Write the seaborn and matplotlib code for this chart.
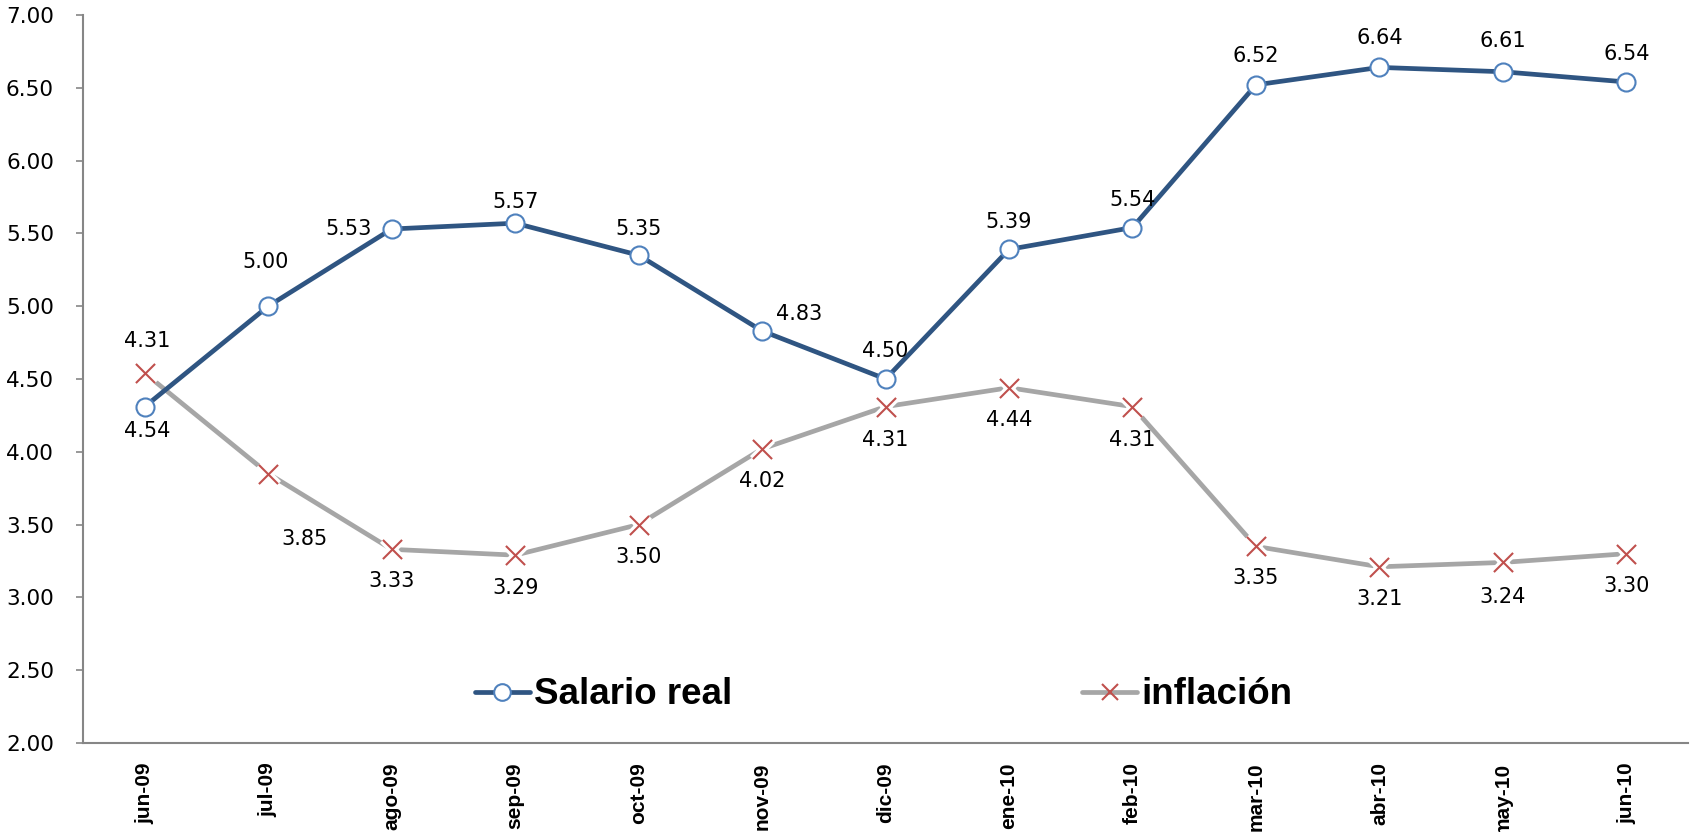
import numpy as np
import pandas as pd
import matplotlib
matplotlib.use("Agg")
import matplotlib.pyplot as plt
from matplotlib.lines import Line2D
import seaborn as sns

# data
meses = ["jun-09", "jul-09", "ago-09", "sep-09", "oct-09", "nov-09", "dic-09",
         "ene-10", "feb-10", "mar-10", "abr-10", "may-10", "jun-10"]
salario_real = [4.31, 5.00, 5.53, 5.57, 5.35, 4.83, 4.50, 5.39, 5.54, 6.52, 6.64, 6.61, 6.54]
inflacion = [4.54, 3.85, 3.33, 3.29, 3.50, 4.02, 4.31, 4.44, 4.31, 3.35, 3.21, 3.24, 3.30]
y_ticks = [2.0, 2.5, 3.0, 3.5, 4.0, 4.5, 5.0, 5.5, 6.0, 6.5, 7.0]

# label offsets in points (dx, dy)
off_sal = [(2, 47), (-2, 32), (-31, 0), (0, 15), (0, 19), (27, 12), (0, 20),
           (0, 20), (0, 20), (0, 21), (0, 21), (0, 22), (0, 20)]
off_inf = [(2, -42), (26, -47), (0, -23), (0, -24), (0, -23), (0, -23), (0, -24),
           (0, -23), (0, -24), (0, -23), (0, -23), (0, -25), (0, -23)]

C_SAL = "#2F5582"
C_SAL_EDGE = "#4F81BD"
C_INF = "#A6A6A6"
C_X = "#C0504D"

sns.set_style("white")
plt.rcParams["font.family"] = ["DejaVu Sans"]
plt.rcParams["text.color"] = "black"
plt.rcParams["xtick.color"] = "black"
plt.rcParams["ytick.color"] = "black"

df = pd.DataFrame({"mes": meses, "salario": salario_real, "inflacion": inflacion})

fig = plt.figure(figsize=(17.02, 8.32), dpi=100)
ax = fig.add_axes([0.0488, 0.107, 0.943, 0.875])

# inflation: grey line, white halo under the red crosses, then crosses
sns.lineplot(data=df, x="mes", y="inflacion", ax=ax, sort=False, color=C_INF,
             linewidth=3.4, zorder=2)
sns.scatterplot(data=df, x="mes", y="inflacion", ax=ax, marker="x", s=190,
                color="white", linewidth=6, zorder=2.5)
sns.scatterplot(data=df, x="mes", y="inflacion", ax=ax, marker="x", s=190,
                color=C_X, linewidth=1.5, zorder=2.6)
sns.lineplot(data=df, x="mes", y="salario", ax=ax, sort=False, color=C_SAL,
             linewidth=3.4, marker="o", markersize=13, markerfacecolor="white",
             markeredgecolor=C_SAL_EDGE, markeredgewidth=1.5, zorder=3)

for i, (s, f) in enumerate(zip(salario_real, inflacion)):
    ax.annotate(f"{s:.2f}", (i, s), xytext=off_sal[i], textcoords="offset points",
                ha="center", va="center", fontsize=15, color="black")
    ax.annotate(f"{f:.2f}", (i, f), xytext=off_inf[i], textcoords="offset points",
                ha="center", va="center", fontsize=15, color="black")

ax.set_xlim(-0.5, len(meses) - 0.5)
ax.set_ylim(2.0, 7.0)
ax.set_yticks(y_ticks)
ax.set_yticklabels([f"{v:.2f}" for v in y_ticks], fontsize=15.5)
ax.set_xticks(range(len(meses)))
ax.set_xticklabels(meses, rotation=90, fontsize=15, fontweight="bold",
                   family=["Liberation Sans Narrow", "Liberation Sans"])
ax.set_xticks(np.arange(-0.5, len(meses), 1), minor=True)
ax.tick_params(axis="x", which="major", length=0, pad=14)
ax.tick_params(axis="x", which="minor", length=6, width=1.2, color="#868686", direction="out")
ax.tick_params(axis="y", length=5, width=1.2, color="#868686", direction="out", pad=16, left=True)
ax.set_xlabel("")
ax.set_ylabel("")
ax.grid(False)

for side in ["top", "right"]:
    ax.spines[side].set_visible(False)
for side in ["left", "bottom"]:
    ax.spines[side].set_color("#868686")
    ax.spines[side].set_linewidth(1.5)

handles = [
    Line2D([0], [0], color=C_SAL, lw=3.4, marker="o", markersize=12,
           markerfacecolor="white", markeredgecolor=C_SAL_EDGE, markeredgewidth=1.5),
    Line2D([0], [0], color=C_INF, lw=3.4, marker="x", markersize=12,
           markeredgecolor=C_X, markeredgewidth=1.5),
]
ax.legend(handles, ["Salario real", "inflación"], loc="center left",
          bbox_to_anchor=(0.244, 0.066), ncol=2, frameon=False,
          handlelength=1.5, handletextpad=0.12, columnspacing=9.5,
          borderpad=0, borderaxespad=0,
          prop={"family": "Liberation Sans", "weight": "bold", "size": 26.5})

fig.savefig("out.png", dpi=100)
